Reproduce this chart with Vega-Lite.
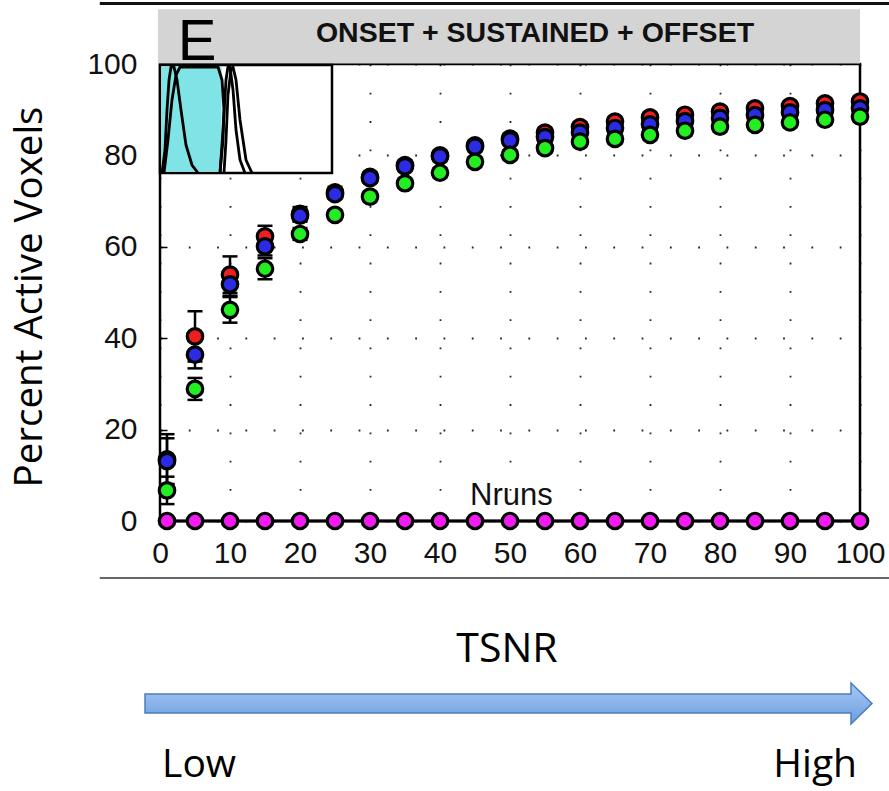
{
 "$schema": "https://vega.github.io/schema/vega-lite/v6.json",
 "width": 700, "height": 457,
 "autosize": {"type": "none"},
 "padding": {"left": 160, "top": 64, "right": 29, "bottom": 270},
 "background": "white",
 "data": {"values": [{}]},
 "config": {
  "view": {"stroke": "black", "strokeWidth": 2.5},
  "axis": {"grid": true, "gridColor": "#000", "gridOpacity": 0.85, "gridWidth": 1.8, "gridDash": [1.8, 26.5], "domain": false, "ticks": true, "tickSize": -7, "tickColor": "#000", "tickWidth": 1.5, "labelFont": "Liberation Sans", "labelFontSize": 30, "labelColor": "#111", "labelFlush": false, "labelOverlap": false},
  "axisX": {"labelPadding": 24, "labelBaseline": "top"},
  "axisY": {"labelPadding": 30, "titleFont": "Open Sans", "titleFontSize": 38.5, "titleFontWeight": "normal", "titleColor": "#000", "titleX": -119, "titleY": 232.5, "titleAngle": -90, "titleBaseline": "alphabetic", "titleAlign": "center"}
 },
 "datasets": {
  "pts": [
   {"tsnr":1,"series":"red","pct":13.5,"err":5.5},{"tsnr":5,"series":"red","pct":40.4,"err":5.5},{"tsnr":10,"series":"red","pct":53.9,"err":4},{"tsnr":15,"series":"red","pct":62.3,"err":2.3},{"tsnr":20,"series":"red","pct":67.2,"err":1.5},{"tsnr":25,"series":"red","pct":71.9,"err":1.2},{"tsnr":30,"series":"red","pct":75.3,"err":1},{"tsnr":35,"series":"red","pct":77.9,"err":1},{"tsnr":40,"series":"red","pct":80.0,"err":1},{"tsnr":45,"series":"red","pct":82.2,"err":1},{"tsnr":50,"series":"red","pct":83.7,"err":1},{"tsnr":55,"series":"red","pct":85.0,"err":1},{"tsnr":60,"series":"red","pct":86.2,"err":1},{"tsnr":65,"series":"red","pct":87.4,"err":1},{"tsnr":70,"series":"red","pct":88.3,"err":1},{"tsnr":75,"series":"red","pct":88.9,"err":1},{"tsnr":80,"series":"red","pct":89.6,"err":1},{"tsnr":85,"series":"red","pct":90.3,"err":1},{"tsnr":90,"series":"red","pct":90.8,"err":1},{"tsnr":95,"series":"red","pct":91.4,"err":1},{"tsnr":100,"series":"red","pct":91.8,"err":1},
   {"tsnr":1,"series":"blue","pct":13.1,"err":5},{"tsnr":5,"series":"blue","pct":36.4,"err":3},{"tsnr":10,"series":"blue","pct":51.8,"err":2.5},{"tsnr":15,"series":"blue","pct":60.1,"err":2},{"tsnr":20,"series":"blue","pct":66.8,"err":1.3},{"tsnr":25,"series":"blue","pct":71.5,"err":1},{"tsnr":30,"series":"blue","pct":75.0,"err":1},{"tsnr":35,"series":"blue","pct":77.6,"err":1},{"tsnr":40,"series":"blue","pct":79.8,"err":1},{"tsnr":45,"series":"blue","pct":81.9,"err":1},{"tsnr":50,"series":"blue","pct":83.3,"err":1},{"tsnr":55,"series":"blue","pct":84.0,"err":1},{"tsnr":60,"series":"blue","pct":85.0,"err":1},{"tsnr":65,"series":"blue","pct":86.0,"err":1},{"tsnr":70,"series":"blue","pct":86.8,"err":1},{"tsnr":75,"series":"blue","pct":87.5,"err":1},{"tsnr":80,"series":"blue","pct":88.2,"err":1},{"tsnr":85,"series":"blue","pct":88.8,"err":1},{"tsnr":90,"series":"blue","pct":89.4,"err":1},{"tsnr":95,"series":"blue","pct":89.9,"err":1},{"tsnr":100,"series":"blue","pct":90.3,"err":1},
   {"tsnr":1,"series":"green","pct":6.7,"err":3},{"tsnr":5,"series":"green","pct":28.9,"err":2.4},{"tsnr":10,"series":"green","pct":46.2,"err":2.8},{"tsnr":15,"series":"green","pct":55.2,"err":2.3},{"tsnr":20,"series":"green","pct":62.8,"err":1.3},{"tsnr":25,"series":"green","pct":67.0,"err":1},{"tsnr":30,"series":"green","pct":71.0,"err":1},{"tsnr":35,"series":"green","pct":73.9,"err":1},{"tsnr":40,"series":"green","pct":76.2,"err":1},{"tsnr":45,"series":"green","pct":78.6,"err":1},{"tsnr":50,"series":"green","pct":80.1,"err":1},{"tsnr":55,"series":"green","pct":81.6,"err":1},{"tsnr":60,"series":"green","pct":83.0,"err":1},{"tsnr":65,"series":"green","pct":83.6,"err":1},{"tsnr":70,"series":"green","pct":84.5,"err":1},{"tsnr":75,"series":"green","pct":85.4,"err":1},{"tsnr":80,"series":"green","pct":86.3,"err":1},{"tsnr":85,"series":"green","pct":86.7,"err":1},{"tsnr":90,"series":"green","pct":87.2,"err":1},{"tsnr":95,"series":"green","pct":87.8,"err":1},{"tsnr":100,"series":"green","pct":88.5,"err":1},
   {"tsnr":1,"series":"magenta","pct":0,"err":0},{"tsnr":5,"series":"magenta","pct":0,"err":0},{"tsnr":10,"series":"magenta","pct":0,"err":0},{"tsnr":15,"series":"magenta","pct":0,"err":0},{"tsnr":20,"series":"magenta","pct":0,"err":0},{"tsnr":25,"series":"magenta","pct":0,"err":0},{"tsnr":30,"series":"magenta","pct":0,"err":0},{"tsnr":35,"series":"magenta","pct":0,"err":0},{"tsnr":40,"series":"magenta","pct":0,"err":0},{"tsnr":45,"series":"magenta","pct":0,"err":0},{"tsnr":50,"series":"magenta","pct":0,"err":0},{"tsnr":55,"series":"magenta","pct":0,"err":0},{"tsnr":60,"series":"magenta","pct":0,"err":0},{"tsnr":65,"series":"magenta","pct":0,"err":0},{"tsnr":70,"series":"magenta","pct":0,"err":0},{"tsnr":75,"series":"magenta","pct":0,"err":0},{"tsnr":80,"series":"magenta","pct":0,"err":0},{"tsnr":85,"series":"magenta","pct":0,"err":0},{"tsnr":90,"series":"magenta","pct":0,"err":0},{"tsnr":95,"series":"magenta","pct":0,"err":0},{"tsnr":100,"series":"magenta","pct":0,"err":0}
  ],
  "inset": [
   {"curve":"A","i":0,"ix":0.29,"iy":76.15},{"curve":"A","i":1,"ix":0.71,"iy":81.18},{"curve":"A","i":2,"ix":1.0,"iy":89.93},{"curve":"A","i":3,"ix":1.29,"iy":96.5},{"curve":"A","i":4,"ix":1.57,"iy":99.34},{"curve":"A","i":5,"ix":2.0,"iy":99.34},{"curve":"A","i":6,"ix":2.43,"iy":96.5},{"curve":"A","i":7,"ix":3.0,"iy":89.93},{"curve":"A","i":8,"ix":3.71,"iy":82.28},{"curve":"A","i":9,"ix":4.57,"iy":77.9},{"curve":"A","i":10,"ix":5.43,"iy":76.15},
   {"curve":"B","i":0,"ix":0.57,"iy":76.15},{"curve":"B","i":1,"ix":1.14,"iy":83.37},{"curve":"B","i":2,"ix":1.71,"iy":92.12},{"curve":"B","i":3,"ix":2.29,"iy":97.59},{"curve":"B","i":4,"ix":2.86,"iy":99.34},{"curve":"B","i":5,"ix":8.29,"iy":99.34},{"curve":"B","i":6,"ix":8.86,"iy":96.5},{"curve":"B","i":7,"ix":9.14,"iy":89.93},{"curve":"B","i":8,"ix":9.0,"iy":83.37},{"curve":"B","i":9,"ix":8.57,"iy":76.15},
   {"curve":"C","i":0,"ix":8.57,"iy":76.15},{"curve":"C","i":1,"ix":9.0,"iy":85.56},{"curve":"C","i":2,"ix":9.43,"iy":96.5},{"curve":"C","i":3,"ix":9.71,"iy":99.34},{"curve":"C","i":4,"ix":10.0,"iy":99.34},{"curve":"C","i":5,"ix":10.43,"iy":94.31},{"curve":"C","i":6,"ix":10.86,"iy":85.56},{"curve":"C","i":7,"ix":11.43,"iy":78.99},{"curve":"C","i":8,"ix":12.14,"iy":76.15},
   {"curve":"D","i":0,"ix":9.14,"iy":76.15},{"curve":"D","i":1,"ix":9.43,"iy":83.37},{"curve":"D","i":2,"ix":9.71,"iy":93.22},{"curve":"D","i":3,"ix":10.14,"iy":98.69},{"curve":"D","i":4,"ix":10.43,"iy":99.34},{"curve":"D","i":5,"ix":10.86,"iy":96.5},{"curve":"D","i":6,"ix":11.43,"iy":87.75},{"curve":"D","i":7,"ix":12.29,"iy":78.99},{"curve":"D","i":8,"ix":13.14,"iy":76.15}
  ]
 },
 "layer": [
  {"mark": {"type": "rect", "fill": "#d4d4d4"},
   "encoding": {"x": {"datum": -0.3, "type": "quantitative"}, "x2": {"datum": 100}, "y": {"datum": 100.1, "type": "quantitative"}, "y2": {"datum": 112.0}}},
  {"mark": {"type": "rule", "color": "#111", "strokeWidth": 3},
   "encoding": {"x": {"datum": -8.6, "type": "quantitative"}, "x2": {"datum": 104.3}, "y": {"datum": 113.24, "type": "quantitative"}}},
  {"mark": {"type": "rule", "color": "#666", "strokeWidth": 2},
   "encoding": {"x": {"datum": -8.6, "type": "quantitative"}, "x2": {"datum": 104.3}, "y": {"datum": -12.47, "type": "quantitative"}}},
  {"mark": {"type": "text", "text": "ONSET + SUSTAINED + OFFSET", "font": "Liberation Sans", "fontWeight": "bold", "fontSize": 28.5, "align": "center", "baseline": "alphabetic", "color": "#111"},
   "encoding": {"x": {"datum": 53.57, "type": "quantitative"}, "y": {"datum": 104.81, "type": "quantitative"}}},
  {"mark": {"type": "text", "text": "E", "font": "Liberation Sans", "fontSize": 58, "align": "center", "baseline": "alphabetic", "color": "#000"},
   "encoding": {"x": {"datum": 5.29, "type": "quantitative"}, "y": {"datum": 100.88, "type": "quantitative"}}},
  {"mark": {"type": "rect", "fill": "white", "stroke": "#000", "strokeWidth": 2.5},
   "encoding": {"x": {"datum": 0, "type": "quantitative"}, "x2": {"datum": 24.57}, "y": {"datum": 76.15, "type": "quantitative"}, "y2": {"datum": 99.78}}},
  {"mark": {"type": "rect", "fill": "#80e3e6"},
   "encoding": {"x": {"datum": 0.2, "type": "quantitative"}, "x2": {"datum": 8.8}, "y": {"datum": 76.4, "type": "quantitative"}, "y2": {"datum": 99.5}}},
  {"data": {"name": "inset"},
   "mark": {"type": "line", "color": "#000", "strokeWidth": 2.8},
   "encoding": {"x": {"field": "ix", "type": "quantitative", "title": null}, "y": {"field": "iy", "type": "quantitative", "title": "Percent Active Voxels"}, "detail": {"field": "curve"}, "order": {"field": "i", "type": "quantitative"}}},
  {"data": {"name": "pts"},
   "transform": [{"filter": "datum.series !== 'magenta'"}],
   "mark": {"type": "errorbar", "color": "#000", "opacity": 1, "thickness": 2.5, "ticks": {"size": 15, "opacity": 1}, "rule": {"opacity": 1}},
   "encoding": {"x": {"field": "tsnr", "type": "quantitative", "title": null}, "y": {"field": "pct", "type": "quantitative", "title": "Percent Active Voxels"}, "yError": {"field": "err"}}},
  {"data": {"name": "pts"},
   "transform": [{"filter": "datum.series === 'magenta'"}],
   "mark": {"type": "line", "color": "#000", "strokeWidth": 3},
   "encoding": {"x": {"field": "tsnr", "type": "quantitative", "title": null}, "y": {"field": "pct", "type": "quantitative", "title": "Percent Active Voxels"}}},
  {"data": {"name": "pts"},
   "mark": {"type": "point", "shape": "circle", "filled": true, "size": 240, "stroke": "#000", "strokeWidth": 3.2, "opacity": 1},
   "encoding": {
    "x": {"field": "tsnr", "type": "quantitative", "scale": {"domain": [0, 100]}, "axis": {"values": [0,10,20,30,40,50,60,70,80,90,100], "title": null}},
    "y": {"field": "pct", "type": "quantitative", "scale": {"domain": [0, 100]}, "axis": {"values": [0,20,40,60,80,100], "title": "Percent Active Voxels"}},
    "fill": {"field": "series", "type": "nominal", "scale": {"domain": ["red","blue","green","magenta"], "range": ["#f01e1e","#2b2be6","#22ee22","#f21cf2"]}, "legend": null}}},
  {"mark": {"type": "text", "text": "Nruns", "font": "Liberation Sans", "fontSize": 31, "align": "left", "baseline": "alphabetic", "color": "#111"},
   "encoding": {"x": {"datum": 44.29, "type": "quantitative"}, "y": {"datum": 3.5, "type": "quantitative"}}},
  {"mark": {"type": "text", "text": "TSNR", "font": "Open Sans", "fontSize": 41, "align": "center", "baseline": "alphabetic", "color": "#000"},
   "encoding": {"x": {"datum": 49.57, "type": "quantitative"}, "y": {"datum": -30.85, "type": "quantitative"}}},
  {"mark": {"type": "point", "shape": "M-365,-9.5L341,-9.5L341,-20.5L362,0L341,20.5L341,9.5L-365,9.5Z", "size": 4, "filled": true, "opacity": 1,
    "fill": {"gradient": "linear", "x1": 0, "y1": 0, "x2": 0, "y2": 1, "stops": [{"offset": 0, "color": "#a9c9f4"}, {"offset": 1, "color": "#6a9de0"}]},
    "stroke": "#4a7ebb", "strokeWidth": 1.5},
   "encoding": {"x": {"datum": 50, "type": "quantitative"}, "y": {"datum": -39.93, "type": "quantitative"}}},
  {"mark": {"type": "text", "text": "Low", "font": "Open Sans", "fontSize": 39, "align": "left", "baseline": "alphabetic", "color": "#000"},
   "encoding": {"x": {"datum": 0.29, "type": "quantitative"}, "y": {"datum": -56.02, "type": "quantitative"}}},
  {"mark": {"type": "text", "text": "High", "font": "Open Sans", "fontSize": 39, "align": "right", "baseline": "alphabetic", "color": "#000"},
   "encoding": {"x": {"datum": 99.57, "type": "quantitative"}, "y": {"datum": -56.02, "type": "quantitative"}}}
 ]
}
